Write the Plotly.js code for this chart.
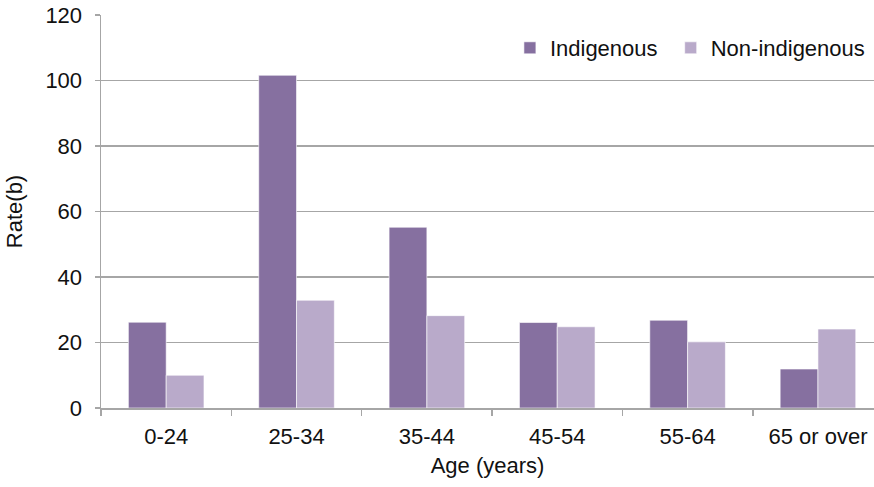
<!DOCTYPE html>
<html>
<head>
<meta charset="utf-8">
<script src="https://cdn.plot.ly/plotly-3.0.1.min.js"></script>
<style>html,body{margin:0;padding:0;overflow:hidden;background:#fff;width:874px;height:487px}</style>
</head>
<body>
<div id="chart" style="width:890px;height:487px"></div>
<script>
var categories = ["0-24", "25-34", "35-44", "45-54", "55-64", "65 or over"];
var indigenous = [26.2, 101.6, 55.2, 26.1, 26.8, 11.9];
var nonIndigenous = [10.0, 32.9, 28.2, 24.8, 20.2, 24.1];
var yTicks = [0, 20, 40, 60, 80, 100, 120];

var fontFamily = "'Liberation Sans', Arial, sans-serif";
var gridCol = "#A6A6A6";

var data = [
  {type: "bar", name: "Indigenous", x: categories, y: indigenous, legend: "legend",
   marker: {color: "#8670A0", line: {color: "#ffffff", width: 0.6}}},
  {type: "bar", name: "Non-indigenous", x: categories, y: nonIndigenous, legend: "legend2",
   marker: {color: "#B9AACA", line: {color: "#ffffff", width: 0.6}}}
];

var legendFont = {size: 22, color: "#111"};
var layout = {
  width: 890, height: 487,
  margin: {l: 101, r: 16, t: 15, b: 79},
  paper_bgcolor: "#fff", plot_bgcolor: "#fff",
  font: {family: fontFamily, size: 22, color: "#111"},
  barmode: "group", bargap: 0.42, bargroupgap: 0,
  showlegend: true,
  legend: {orientation: "h", x: 0.529, xanchor: "left", y: 0.916, yanchor: "middle",
           font: legendFont, bgcolor: "rgba(0,0,0,0)"},
  legend2: {orientation: "h", x: 0.737, xanchor: "left", y: 0.916, yanchor: "middle",
           font: legendFont, bgcolor: "rgba(0,0,0,0)"},
  xaxis: {
    type: "category", range: [-0.5, 5.43],
    showline: true, linecolor: gridCol, linewidth: 1.5,
    ticks: "outside", tickson: "boundaries", ticklen: 6, tickcolor: gridCol, tickwidth: 1.5,
    showgrid: false, zeroline: false, ticklabelstandoff: 8,
    title: {text: "Age (years)", standoff: 9, font: {size: 22}},
    tickfont: {size: 22}
  },
  yaxis: {
    range: [0, 120], tickvals: yTicks,
    showline: true, linecolor: gridCol, linewidth: 1.5,
    ticks: "outside", ticklen: 5, tickcolor: gridCol, tickwidth: 1.5,
    showgrid: true, gridcolor: gridCol, gridwidth: 1.5, zeroline: false,
    ticklabelstandoff: 8,
    title: {text: "Rate(b)", standoff: 16, font: {size: 22}},
    tickfont: {size: 22}
  }
};

Plotly.newPlot("chart", data, layout, {displayModeBar: false, staticPlot: true});
</script>
</body>
</html>
